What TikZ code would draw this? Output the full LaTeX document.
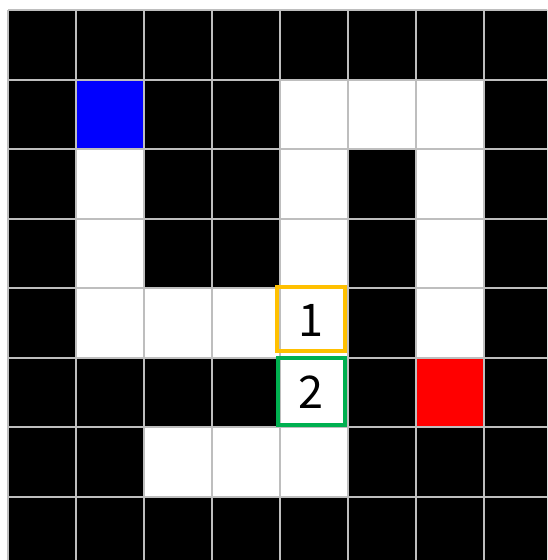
\documentclass[tikz,border=0pt]{standalone}
\usepackage{fontspec}
\newfontfamily\jpfont{Noto Sans CJK JP}
\definecolor{gridgray}{RGB}{190,190,190}
\definecolor{markorange}{RGB}{255,192,0}
\definecolor{markgreen}{RGB}{0,176,80}
\begin{document}
\begin{tikzpicture}[x=1pt,y=-1pt,
  gridline/.style={draw=gridgray,line width=2pt},
  markbox/.style={line width=4pt},
  cellnum/.style={font=\jpfont\fontsize{45}{45}\selectfont,inner sep=0pt}]
\useasboundingbox (0,0) rectangle (547,560);
\clip (0,0) rectangle (547,560);
\fill[black] (8,10) rectangle (552,566);
\foreach \c/\r in {4/1,5/1,6/1,1/2,4/2,6/2,1/3,4/3,6/3,1/4,2/4,3/4,4/4,6/4,4/5,2/6,3/6,4/6}
  \fill[white] (8+68*\c,10+69.5*\r) rectangle ++(68,69.5);
\fill[blue] (8+68*1,10+69.5*1) rectangle ++(68,69.5);
\fill[red] (8+68*6,10+69.5*5) rectangle ++(68,69.5);
\foreach \i in {0,...,8} {
  \draw[gridline] (8+68*\i,10) -- (8+68*\i,566);
  \draw[gridline] (8,10+69.5*\i) -- (552,10+69.5*\i);
}
\draw[markbox,draw=markorange] (277,287) rectangle (345,351);
\draw[markbox,draw=markgreen] (278,358) rectangle (345,425);
\node[cellnum] (one) at (311,320) {1};
\node[cellnum] (two) at (311,392) {2};
\end{tikzpicture}
\end{document}
